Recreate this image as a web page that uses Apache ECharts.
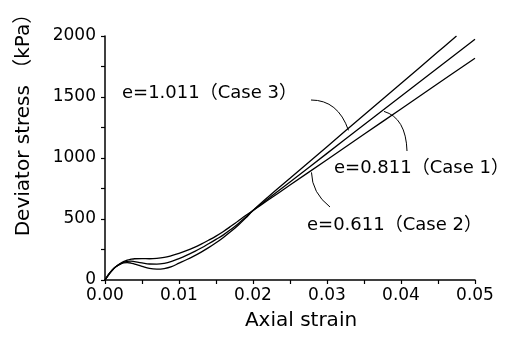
<!DOCTYPE html>
<html>
<head>
<meta charset="utf-8">
<script src="https://cdn.jsdelivr.net/npm/echarts@6/dist/echarts.min.js"></script>
<style>html,body{margin:0;padding:0;background:#fff}#c{width:522px;height:340px}</style>
</head>
<body>
<div id="c"></div>
<script>
// ---- data ----
var strain = [0,0.0005,0.001,0.0015,0.002,0.0025,0.003,0.0035,0.004,0.005,0.006,0.007,0.008,0.009,0.010,0.011,0.012,0.013,0.014,0.015,0.016,0.017,0.018,0.019,0.020,0.022,0.025,0.03,0.035,0.04,0.045,0.05];
var strainCase3 = [0,0.0005,0.001,0.0015,0.002,0.0025,0.003,0.0035,0.004,0.005,0.006,0.007,0.008,0.009,0.010,0.011,0.012,0.013,0.014,0.015,0.016,0.017,0.018,0.019,0.020,0.022,0.025,0.03,0.035,0.04,0.045,0.0475];
var case2 = [0,45,82,110,132,150,163,170,174,175,174,177,185,200,218,240,265,294,326,360,398,440,484,528,570,653,778,986,1194,1402,1610,1818];
var case1 = [0,45,82,110,130,145,153,155,150,140,131,130,137,153,176,202,231,262,297,333,370,414,462,514,570,664,804,1038,1272,1506,1739,1973];
var case3 = [0,45,82,110,128,140,143,139,130,112,95,89,94,110,138,166,196,229,265,305,349,397,449,507,570,679,834,1093,1352,1611,1870,2000];
var xTicks = {min:0, max:0.05, interval:0.01};
var yTicks = {min:0, max:2000, interval:500};
var labelCase3 = 'e=1.011（Case 3）';
var labelCase1 = 'e=0.811（Case 1）';
var labelCase2 = 'e=0.611（Case 2）';
var xName = 'Axial strain';
var yName = 'Deviator stress （kPa）';

function pairs(xs, ys){ return xs.map(function(x,i){return [x, ys[i]];}); }
function interp(xs, ys, x){
  for (var i=1;i<xs.length;i++){ if (x<=xs[i]){ var t=(x-xs[i-1])/(xs[i]-xs[i-1]); return ys[i-1]+t*(ys[i]-ys[i-1]); } }
  return ys[ys.length-1];
}

var FONT = '"DejaVu Sans","Noto Sans CJK JP",sans-serif';
var chart = echarts.init(document.getElementById('c'), null, {renderer:'canvas'});
var lineStyle = {color:'#000', width:1.3};
function axisCommon(){
  return {
    axisLine:{show:true, onZero:false, lineStyle:{color:'#000', width:1.5}},
    axisTick:{show:true, inside:false, length:4, lineStyle:{color:'#000', width:1.2}},
    minorTick:{show:true, splitNumber:2, length:4, lineStyle:{color:'#000', width:1.2}},
    splitLine:{show:false},
    minorSplitLine:{show:false}
  };
}
var xa = axisCommon();
Object.assign(xa, {type:'value', min:xTicks.min, max:xTicks.max, interval:xTicks.interval,
  axisLabel:{color:'#000', fontFamily:FONT, fontSize:17, margin:7, formatter:function(v){return v.toFixed(2);}}});
var ya = axisCommon();
Object.assign(ya, {type:'value', min:yTicks.min, max:yTicks.max, interval:yTicks.interval,
  axisLabel:{color:'#000', fontFamily:FONT, fontSize:17, margin:9, formatter:function(v){return String(v);}}});

chart.setOption({
  animation:false,
  backgroundColor:'#fff',
  grid:{left:105, right:47, top:36, bottom:60, containLabel:false},
  xAxis:xa,
  yAxis:ya,
  series:[
    {type:'line', name:'Case 2', data:pairs(strain, case2), showSymbol:false, smooth:0.4, lineStyle:lineStyle},
    {type:'line', name:'Case 1', data:pairs(strain, case1), showSymbol:false, smooth:0.4, lineStyle:lineStyle},
    {type:'line', name:'Case 3', data:pairs(strainCase3, case3), showSymbol:false, smooth:0.4, lineStyle:lineStyle}
  ]
});

function tip(xs, ys, x){ return chart.convertToPixel({gridIndex:0}, [x, interp(xs, ys, x)]); }
var t3 = tip(strainCase3, case3, 0.0329);
var t1 = tip(strain, case1, 0.0377);
var t2 = tip(strain, case2, 0.0279);
var leader = {stroke:'#000', lineWidth:1, fill:null};
function txt(s, x, y){ return {type:'text', x:x, y:y, style:{text:s, font:'18px '+FONT, fill:'#000', textAlign:'left', textVerticalAlign:'middle', align:'left', verticalAlign:'middle'}}; }

chart.setOption({
  graphic:[
    txt(labelCase3, 122, 93),
    txt(labelCase1, 334, 168),
    txt(labelCase2, 307, 225),
    {type:'bezierCurve', shape:{x1:311, y1:100, cpx1:338, cpy1:100, x2:t3[0], y2:t3[1]+2}, style:leader},
    {type:'bezierCurve', shape:{x1:407, y1:151, cpx1:406, cpy1:118, x2:t1[0], y2:t1[1]+2}, style:leader},
    {type:'bezierCurve', shape:{x1:330, y1:207, cpx1:312, cpy1:193, x2:t2[0], y2:t2[1]+2}, style:leader},
    {type:'text', x:301, y:321, style:{text:xName, font:'20px '+FONT, fill:'#000', textAlign:'center', textVerticalAlign:'middle', align:'center', verticalAlign:'middle'}},
    {type:'text', x:24, y:120, rotation:Math.PI/2, style:{text:yName, font:'20px '+FONT, fill:'#000', textAlign:'center', textVerticalAlign:'middle', align:'center', verticalAlign:'middle'}}
  ]
});
</script>
</body>
</html>
